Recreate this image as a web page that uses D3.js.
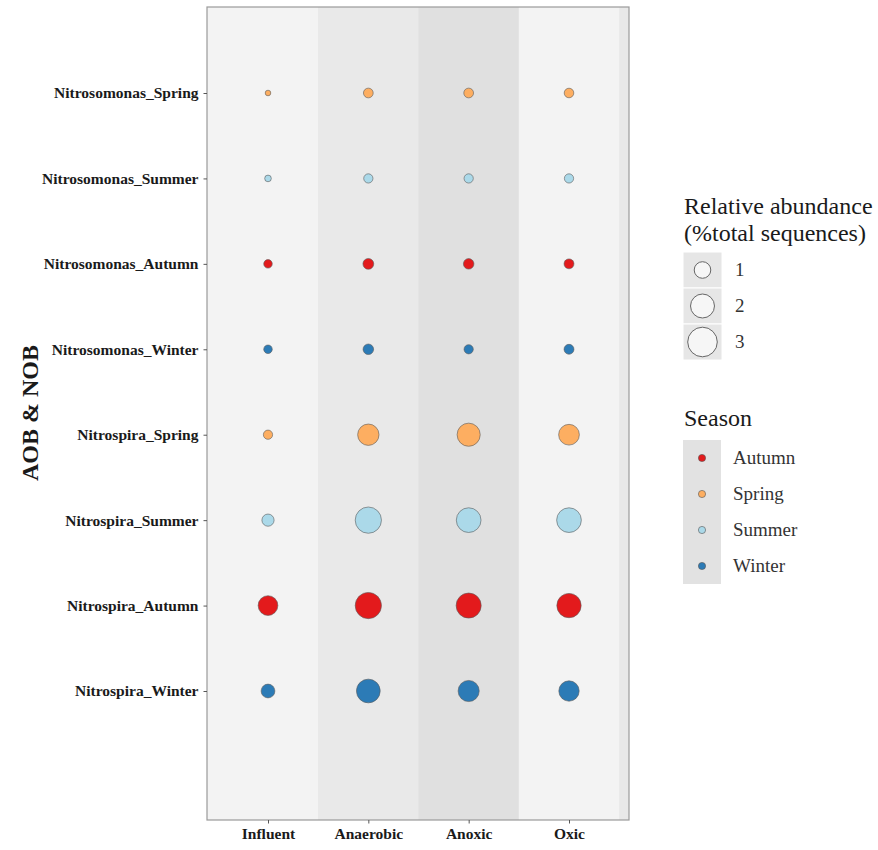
<!DOCTYPE html>
<html><head><meta charset="utf-8">
<script src="https://cdn.jsdelivr.net/npm/d3@7/dist/d3.min.js"></script>
<style>
body{margin:0;background:#fff;}
svg text{font-family:"Liberation Serif","Times New Roman",serif;}
</style></head>
<body><svg id="c" width="878" height="850"></svg>
<script>
const sites = ["Influent","Anaerobic","Anoxic","Oxic"];
const taxa = ["Nitrosomonas_Spring","Nitrosomonas_Summer","Nitrosomonas_Autumn","Nitrosomonas_Winter",
              "Nitrospira_Spring","Nitrospira_Summer","Nitrospira_Autumn","Nitrospira_Winter"];
const taxonSeason = ["Spring","Summer","Autumn","Winter","Spring","Summer","Autumn","Winter"];
// relative abundance (% total sequences), rows = taxa, cols = sites
const abundance = [
  [0.10, 0.30, 0.30, 0.29],
  [0.14, 0.27, 0.27, 0.27],
  [0.23, 0.37, 0.35, 0.31],
  [0.23, 0.35, 0.27, 0.31],
  [0.27, 1.44, 1.69, 1.36],
  [0.47, 2.18, 1.93, 1.93],
  [1.23, 2.18, 1.99, 1.87],
  [0.60, 1.78, 1.41, 1.31]
];
const seasons = ["Autumn","Spring","Summer","Winter"];
const seasonColors = ["#e31a1c","#fdae61","#abd9e9","#2c7bb6"];
const sizeBreaks = [1,2,3];
const bandFills = ["#f3f3f3","#e9e9e9","#e0e0e0","#f3f3f3"];

const svg = d3.select("#c");
const P = {l:207, r:629, t:7, b:820};

const x = d3.scalePoint().domain(sites).range([268, 569]);
const y = d3.scalePoint().domain(taxa).range([93, 691]);
const r = d3.scaleSqrt().domain([0,3]).range([0,15.4]);
const col = d3.scaleOrdinal().domain(seasons).range(seasonColors);
const step = x.step();

// panel background
svg.append("rect").attr("x",P.l).attr("y",P.t).attr("width",P.r-P.l).attr("height",P.b-P.t).attr("fill","#e8e8e8");
// site bands
svg.append("g").selectAll("rect").data(sites).join("rect")
  .attr("x",(d,i)=> i===0 ? P.l : x(d)-step/2)
  .attr("width",(d,i)=> i===0 ? x(d)+step/2-P.l : step)
  .attr("y",P.t).attr("height",P.b-P.t)
  .attr("fill",(d,i)=>bandFills[i]);

// bubbles
const pts = [];
taxa.forEach((t,i)=>sites.forEach((s,j)=>pts.push({t,s,v:abundance[i][j],season:taxonSeason[i]})));
svg.append("g").selectAll("circle").data(pts).join("circle")
  .attr("cx",d=>x(d.s)).attr("cy",d=>y(d.t)).attr("r",d=>r(d.v))
  .attr("fill",d=>col(d.season)).attr("stroke","#5a5a5a").attr("stroke-opacity",0.75).attr("stroke-width",0.8);

// border
svg.append("rect").attr("x",P.l).attr("y",P.t).attr("width",P.r-P.l).attr("height",P.b-P.t)
  .attr("fill","none").attr("stroke","#9a9a9a").attr("stroke-width",1.2);

// axes
const xa = svg.append("g").attr("transform",`translate(0,${P.b})`)
  .call(d3.axisBottom(x).tickSize(3.5).tickPadding(4));
xa.select(".domain").remove();
xa.selectAll("line").attr("stroke","#555");
xa.selectAll("text").attr("fill","#1a1a1a").attr("font-size",15.5).attr("font-weight","bold")
  .style("font-family",'"Liberation Serif",serif');

const ya = svg.append("g").attr("transform",`translate(${P.l},0)`)
  .call(d3.axisLeft(y).tickSize(3.5).tickPadding(5));
ya.select(".domain").remove();
ya.selectAll("line").attr("stroke","#555");
ya.selectAll("text").attr("fill","#1a1a1a").attr("font-size",15.5).attr("font-weight","bold")
  .style("font-family",'"Liberation Serif",serif');

svg.append("text").attr("transform","translate(38,413) rotate(-90)")
  .attr("text-anchor","middle").attr("font-size",24).attr("font-weight","bold").attr("fill","#1a1a1a")
  .text("AOB & NOB");

// size legend
const L = svg.append("g");
L.append("text").attr("x",684).attr("y",214).attr("font-size",24).attr("fill","#1a1a1a").text("Relative abundance");
L.append("text").attr("x",684).attr("y",241).attr("font-size",24).attr("fill","#1a1a1a").text("(%total sequences)");
sizeBreaks.forEach((b,i)=>{
  const y0 = 252 + i*36;
  L.append("rect").attr("x",683).attr("y",y0).attr("width",39).attr("height",36).attr("fill","#e6e6e6").attr("stroke","#fff").attr("stroke-width",1);
  L.append("circle").attr("cx",702.5).attr("cy",y0+18).attr("r",r(b)-0.6).attr("fill","#f6f6f6").attr("stroke","#666").attr("stroke-width",1);
  L.append("text").attr("x",735).attr("y",y0+24).attr("font-size",19).attr("fill","#333").text(b);
});

// season legend
L.append("text").attr("x",684).attr("y",426).attr("font-size",24).attr("fill","#1a1a1a").text("Season");
L.append("rect").attr("x",683).attr("y",440).attr("width",38).attr("height",144).attr("fill","#e2e2e2");
seasons.forEach((s,i)=>{
  const cy = 458 + i*36;
  L.append("circle").attr("cx",702).attr("cy",cy).attr("r",3.6).attr("fill",col(s)).attr("stroke","#555").attr("stroke-width",0.6);
  L.append("text").attr("x",733).attr("y",cy+6).attr("font-size",19).attr("fill","#333").text(s);
});
</script></body></html>
